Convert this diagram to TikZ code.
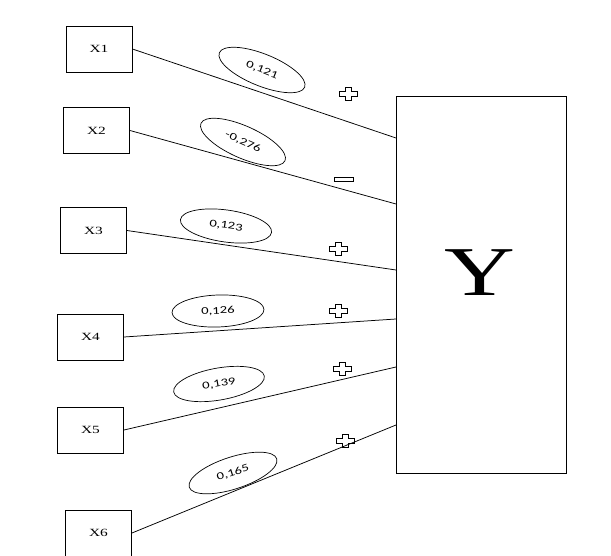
\documentclass[tikz,border=0pt]{standalone}
\usepackage{fontspec}
\setmainfont{Liberation Serif}
\newfontfamily\lblfont{Carlito}
\usetikzlibrary{shapes.geometric}
\newcommand{\hs}[1]{\scalebox{1.4}[1]{#1}}
\tikzset{
  xbox/.style={draw, line width=0.9pt, minimum width=66pt, minimum height=46pt, inner sep=0pt, font=\fontsize{11}{13}\selectfont},
  ybox/.style={draw, line width=0.9pt, minimum width=170pt, minimum height=377pt, inner sep=0pt},
  coef/.style={draw, ellipse, line width=0.7pt, minimum width=92pt, minimum height=32pt, inner sep=0pt, font=\lblfont\fontsize{10.5}{12}\selectfont},
  link/.style={line width=0.75pt},
  signline/.style={line width=0.8pt},
  plussign/.pic={\draw[signline] (-3,6.5) -- (3,6.5) -- (3,2.5) -- (9,2.5) -- (9,-2.5) -- (3,-2.5) -- (3,-6.5) -- (-3,-6.5) -- (-3,-2.5) -- (-9,-2.5) -- (-9,2.5) -- (-3,2.5) -- cycle;},
  minussign/.pic={\draw[signline] (-9.5,-2) rectangle (9.5,2);}
}
\begin{document}
\begin{tikzpicture}[x=1pt,y=1pt]
\useasboundingbox (0,0) rectangle (611,-556);
\clip (0,0) rectangle (611,-556);
% Y box
\node[ybox] (Y) at (481,-284.5) {};
\node[font=\fontsize{70}{72}\selectfont, inner sep=0pt] (ylab) at (480,-273) {\hs{Y}};
% X boxes
\node[xbox] (x1) at (99,-49) {\hs{X1}};
\node[xbox] (x2) at (96.5,-130.5) {\hs{X2}};
\node[xbox] (x3) at (93.5,-230.5) {\hs{X3}};
\node[xbox] (x4) at (90.5,-337) {\hs{X4}};
\node[xbox] (x5) at (90.5,-430) {\hs{X5}};
\node[xbox] (x6) at (98.5,-533) {\hs{X6}};
% end points on Y
\coordinate (p1) at (396,-138);
\coordinate (p2) at (396,-204);
\coordinate (p3) at (396,-270);
\coordinate (p4) at (396,-319);
\coordinate (p5) at (396,-367);
\coordinate (p6) at (396,-425);
\draw[link] (x1.east) -- (p1);
\draw[link] (x2.east) -- (p2);
\draw[link] (x3.east) -- (p3);
\draw[link] (x4.east) -- (p4);
\draw[link] (x5.east) -- (p5);
\draw[link] (x6.east) -- (p6);
% coefficients
\node[coef, rotate=-22] (e1) at (262,-70) {\hs{0,121}};
\node[coef, rotate=-24] (e2) at (243,-142) {\hs{-0,276}};
\node[coef, rotate=-8] (e3) at (226,-226) {\hs{0,123}};
\node[coef, rotate=2] (e4) at (218,-311) {\hs{0,126}};
\node[coef, rotate=10] (e5) at (219,-384) {\hs{0,139}};
\node[coef, rotate=18] (e6) at (233,-473) {\hs{0,165}};
% signs
\pic at (348,-94) {plussign};
\pic at (344,-179) {minussign};
\pic at (338,-249) {plussign};
\pic at (338,-311) {plussign};
\pic at (342,-369) {plussign};
\pic at (345,-441) {plussign};
\end{tikzpicture}
\end{document}
